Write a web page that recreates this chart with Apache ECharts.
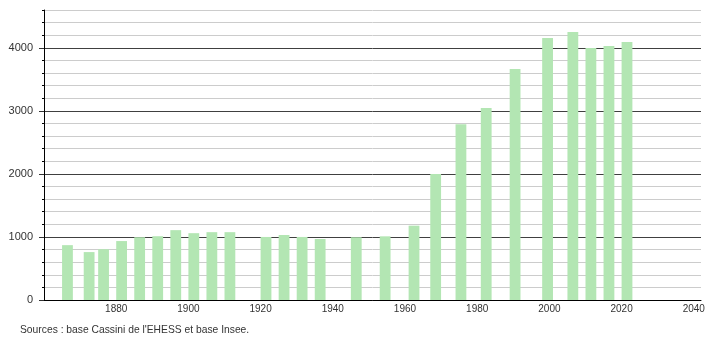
<!DOCTYPE html>
<html>
<head>
<meta charset="utf-8">
<script src="https://cdn.jsdelivr.net/npm/echarts@6/dist/echarts.min.js"></script>
<style>
html,body{margin:0;padding:0;background:#fff;}
#c{width:710px;height:340px;}
</style>
</head>
<body>
<div id="c"></div>
<script>
var years = [1866,1872,1876,1881,1886,1891,1896,1901,1906,1911,1921,1926,1931,1936,1946,1954,1962,1968,1975,1982,1990,1999,2006,2011,2016,2021];
var population = [870,760,806,935,996,1012,1108,1060,1076,1076,1000,1031,1000,968,995,1010,1179,2000,2787,3046,3664,4156,4251,3997,4029,4093];
var yLabels = [0,1000,2000,3000,4000];
var xLabels = [1880,1900,1920,1940,1960,1980,2000,2020,2040];
var sourceText = "Sources : base Cassini de l'EHESS et base Insee.";

var chart = echarts.init(document.getElementById('c'), null, {renderer:'canvas'});
var font = 'Liberation Sans, Arial, sans-serif';
var data = years.map(function(y,i){ return [y + 0.5, population[i]]; });
chart.setOption({
  animation:false,
  grid:{left:44, right:9, top:10, bottom:40, containLabel:false},
  xAxis:{
    type:'value', min:1860, max:2042, interval:20,
    axisLine:{show:true, onZero:false, lineStyle:{color:'#000', width:1}},
    axisTick:{show:false},
    splitLine:{show:false},
    axisLabel:{
      margin:4, fontSize:10, color:'#333', fontFamily:font,
      customValues:xLabels,
      formatter:function(v){ return String(v); }
    }
  },
  yAxis:[{
    type:'value', min:0, max:4600, interval:200,
    axisLine:{show:true, lineStyle:{color:'#000', width:1}},
    axisTick:{show:true, length:2, lineStyle:{color:'#000'}},
    splitLine:{show:true, lineStyle:{color:['#404040','#cccccc','#cccccc','#cccccc','#cccccc'], width:1}},
    axisLabel:{
      margin:11, fontSize:11, color:'#333', fontFamily:font,
      customValues:yLabels,
      formatter:function(v){ return String(v); }
    }
  },{
    type:'value', min:0, max:4600, interval:200, position:'left',
    axisLine:{show:false},
    axisTick:{show:true, length:5, customValues:yLabels, lineStyle:{color:'#333'}},
    splitLine:{show:false},
    axisLabel:{show:false}
  }],
  series:[{
    type:'bar',
    data:data,
    barWidth:10.8,
    itemStyle:{color:'#b3e6b3'},
    silent:true
  }],
  graphic:[{
    type:'text', left:20, top:325,
    style:{text:sourceText, fontSize:10.3, fill:'#333', fontFamily:font}
  }]
});
</script>
</body>
</html>
